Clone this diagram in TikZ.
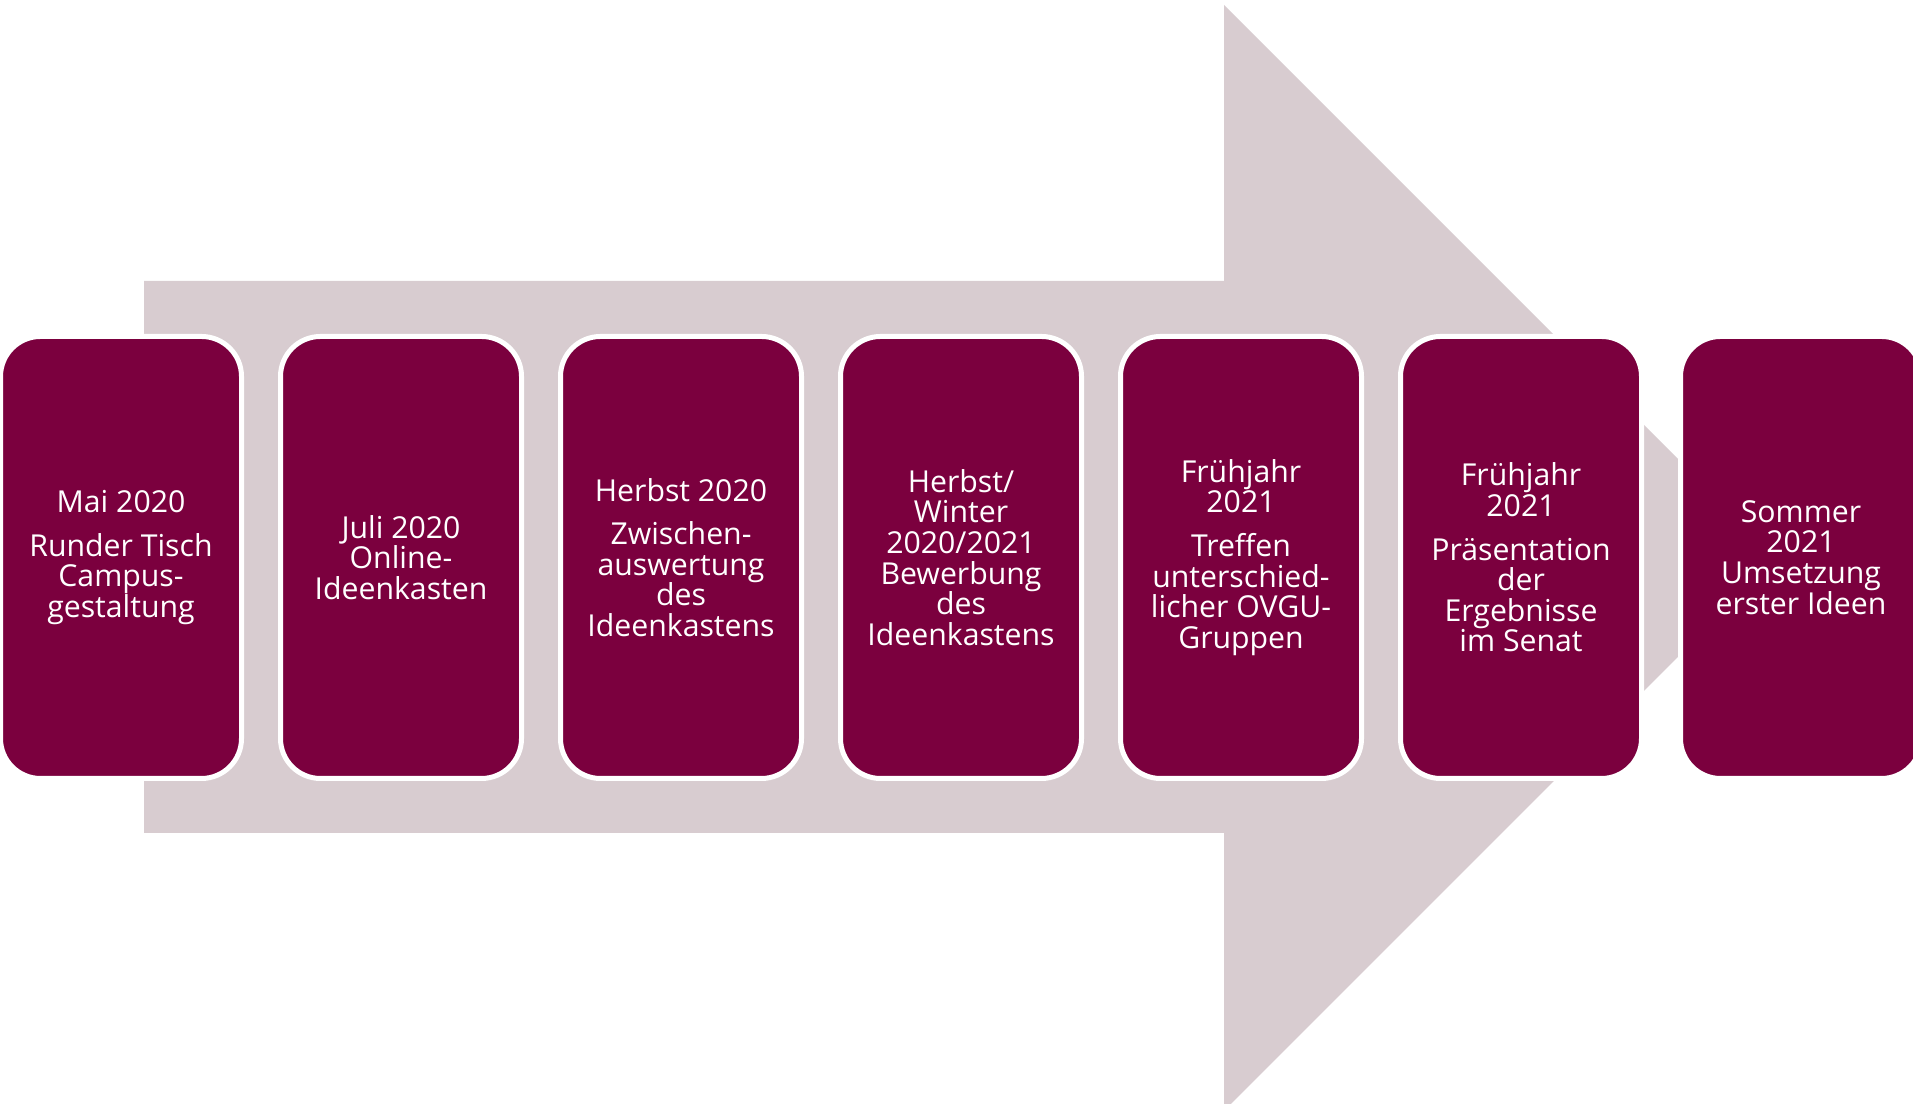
\documentclass[tikz,border=0pt]{standalone}
\usepackage{fontspec}
\setmainfont{Open Sans}
\usepackage{tikz}
\usetikzlibrary{positioning}

\definecolor{ovgured}{RGB}{123,0,62}
\definecolor{arrowgray}{RGB}{216,204,208}

\begin{document}
\begin{tikzpicture}[
    node distance=0.39cm,
    phase/.style={rectangle, rounded corners=0.4cm, draw=white, line width=0.05cm,
        fill=ovgured, outer sep=0pt, minimum width=2.41cm, minimum height=4.42cm,
        text=white, align=center, font=\fontsize{8.6}{8.7}\selectfont}
]
    \useasboundingbox (0,0) rectangle (19.13,11.04);

    % big arrow behind the timeline
    \fill[arrowgray] (1.44,2.71) -- (12.24,2.71) -- (12.24,-0.07) -- (17.77,5.46)
        -- (12.24,10.99) -- (12.24,8.23) -- (1.44,8.23) -- cycle;

    \node[phase] (mai) at (1.21,5.465) {Mai 2020\\[3.7pt]Runder Tisch\\Campus-\\gestaltung};
    \node[phase, right=of mai] (juli) {Juli 2020\\Online-\\Ideenkasten};
    \node[phase, right=of juli] (herbst) {Herbst 2020\\[3.7pt]Zwischen-\\auswertung\\des\\Ideenkastens};
    \node[phase, right=of herbst] (winter) {Herbst/\\Winter\\2020/2021\\Bewerbung\\des\\Ideenkastens};
    \node[phase, right=of winter] (treffen) {Frühjahr\\2021\\[3.7pt]Treffen\\unterschied-\\licher OVGU-\\Gruppen};
    \node[phase, right=of treffen] (senat) {Frühjahr\\2021\\[3.7pt]Präsentation\\der\\Ergebnisse\\im Senat};
    \node[phase, right=of senat] (sommer) {Sommer\\2021\\Umsetzung\\erster Ideen};
\end{tikzpicture}
\end{document}
